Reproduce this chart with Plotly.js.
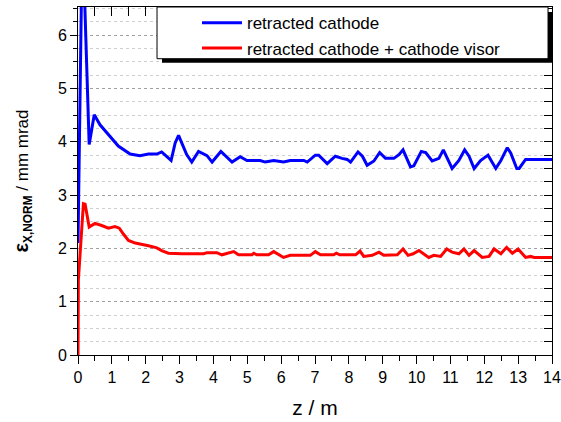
<!DOCTYPE html>
<html>
<head>
<meta charset="utf-8">
<script src="https://cdn.plot.ly/plotly-3.0.1.min.js"></script>
<style>html,body{margin:0;padding:0;background:#fff;}#chart{width:561px;height:422px;}</style>
</head>
<body>
<div id="chart"></div>
<script>
var seriesNames = ["retracted cathode", "retracted cathode + cathode visor"];

var blueZ = [0, 0.13, 0.33, 0.48, 0.65, 0.95, 1.19, 1.54, 1.83, 2.08,
  2.33, 2.47, 2.75, 2.87, 2.97, 3.21, 3.36, 3.56, 3.81, 3.96,
  4.22, 4.55, 4.79, 4.99, 5.38, 5.53, 5.78, 6.07, 6.27, 6.67,
  6.77, 7.01, 7.11, 7.36, 7.60, 7.80, 7.95, 8.05, 8.27, 8.40,
  8.54, 8.74, 8.91, 9.08, 9.33, 9.48, 9.60, 9.82, 9.92, 10.14,
  10.27, 10.46, 10.66, 10.79, 11.05, 11.25, 11.42, 11.55, 11.70, 11.89,
  12.11, 12.34, 12.49, 12.68, 12.78, 12.96, 13.03, 13.22, 14.0];
var blueEps = [2.1, 8.0, 3.95, 4.51, 4.32, 4.10, 3.92, 3.77, 3.74, 3.77,
  3.77, 3.81, 3.65, 3.98, 4.12, 3.76, 3.62, 3.82, 3.74, 3.62,
  3.82, 3.62, 3.72, 3.65, 3.65, 3.62, 3.65, 3.62, 3.65, 3.65,
  3.62, 3.75, 3.75, 3.59, 3.73, 3.69, 3.67, 3.62, 3.81, 3.73,
  3.56, 3.64, 3.80, 3.69, 3.69, 3.76, 3.85, 3.53, 3.55, 3.82,
  3.80, 3.64, 3.69, 3.85, 3.50, 3.65, 3.85, 3.73, 3.50, 3.65,
  3.75, 3.50, 3.65, 3.89, 3.79, 3.50, 3.50, 3.67, 3.67];

var redZ = [0, 0.01, 0.16, 0.21, 0.33, 0.50, 0.70, 0.90, 1.09, 1.22,
  1.34, 1.49, 1.69, 1.88, 2.08, 2.33, 2.47, 2.67, 3.07, 3.71,
  3.81, 4.10, 4.25, 4.60, 4.74, 5.14, 5.19, 5.28, 5.63, 5.78,
  6.07, 6.27, 6.67, 6.86, 7.01, 7.16, 7.55, 7.63, 7.73, 8.20,
  8.33, 8.44, 8.69, 8.89, 9.03, 9.43, 9.60, 9.75, 9.90, 10.07,
  10.36, 10.51, 10.71, 10.89, 11.05, 11.25, 11.40, 11.55, 11.70, 11.94,
  12.14, 12.29, 12.49, 12.66, 12.83, 13.00, 13.22, 13.37, 13.47, 14.0];
var redEps = [0, 1.4, 2.84, 2.83, 2.40, 2.47, 2.43, 2.38, 2.41, 2.38,
  2.27, 2.15, 2.10, 2.08, 2.05, 2.01, 1.96, 1.91, 1.90, 1.90,
  1.92, 1.92, 1.88, 1.94, 1.88, 1.88, 1.91, 1.88, 1.88, 1.94,
  1.83, 1.87, 1.87, 1.87, 1.94, 1.88, 1.88, 1.91, 1.88, 1.88,
  1.95, 1.85, 1.87, 1.93, 1.87, 1.88, 1.99, 1.87, 1.90, 1.96,
  1.83, 1.87, 1.85, 1.99, 1.93, 1.90, 1.99, 1.87, 1.96, 1.83,
  1.85, 1.99, 1.90, 2.02, 1.91, 1.99, 1.83, 1.85, 1.83, 1.83];

var xRange = [0, 14];
var yRange = [0, 6.53];

var font = "Arial, 'Liberation Sans', sans-serif";

var traces = [
  {x: blueZ, y: blueEps, type: 'scatter', mode: 'lines', name: seriesNames[0],
   line: {color: '#0000ff', width: 3}, hoverinfo: 'skip'},
  {x: redZ, y: redEps, type: 'scatter', mode: 'lines', name: seriesNames[1],
   line: {color: '#ff0000', width: 3}, hoverinfo: 'skip'},
  {x: [null], y: [null], xaxis: 'x2', yaxis: 'y2', type: 'scatter', mode: 'lines',
   showlegend: false, hoverinfo: 'skip'}
];

var layout = {
  width: 561, height: 422,
  margin: {l: 78, r: 9, t: 5, b: 67},
  paper_bgcolor: '#ffffff', plot_bgcolor: '#ffffff',
  font: {family: font, color: '#000', size: 16},
  showlegend: true,
  legend: {
    x: 0.251, y: 1.005, xanchor: 'left', yanchor: 'top',
    bgcolor: 'rgba(0,0,0,0)', borderwidth: 0,
    font: {family: font, size: 17, color: '#000'},
    itemwidth: 40, tracegroupgap: 0
  },
  xaxis: {
    range: xRange, dtick: 1, tick0: 0,
    ticks: 'outside', ticklen: 8, tickwidth: 1, tickcolor: '#000',
    showline: true, linecolor: '#000', linewidth: 1, mirror: true,
    showgrid: false, zeroline: false,
    tickfont: {family: font, size: 16, color: '#000'},
    minor: {dtick: 0.5, ticks: 'outside', ticklen: 5, tickcolor: '#000', showgrid: false},
    title: {text: 'z / m', font: {family: font, size: 21, color: '#000'}, standoff: 15}
  },
  yaxis: {
    range: yRange, dtick: 1, tick0: 0,
    ticks: 'outside', ticklen: 7, tickwidth: 1, tickcolor: '#000',
    showline: true, linecolor: '#000', linewidth: 1, mirror: true,
    showgrid: true, gridcolor: '#a0a0a0', griddash: 'dot', gridwidth: 1,
    zeroline: false,
    tickfont: {family: font, size: 16, color: '#000'},
    minor: {dtick: 0.25, ticks: 'outside', ticklen: 4, tickcolor: '#000',
            showgrid: true, gridcolor: '#cfcfcf', griddash: 'dot', gridwidth: 1},
    title: {text: '<b><span style="font-size:20px">ε</span><sub>X,NORM</sub></b> / mm mrad',
            font: {family: font, size: 17, color: '#000'}, standoff: 24}
  },
  xaxis2: {
    overlaying: 'x', anchor: 'y2', side: 'top', range: xRange,
    dtick: 0.5, tick0: 0, ticks: 'inside', ticklen: 9, tickcolor: '#000',
    showticklabels: false, showline: false, showgrid: false, zeroline: false
  },
  yaxis2: {
    overlaying: 'y', anchor: 'x2', side: 'right', range: yRange,
    dtick: 0.25, tick0: 0, ticks: 'inside', ticklen: 8, tickcolor: '#000',
    showticklabels: false, showline: false, showgrid: false, zeroline: false
  },
  shapes: [
    {type: 'rect', xref: 'paper', yref: 'paper', layer: 'above',
     x0: 0.1772, x1: 1.0, y0: 0.84, y1: 0.9857,
     fillcolor: '#000', line: {width: 0}},
    {type: 'rect', xref: 'paper', yref: 'paper', layer: 'above',
     x0: 0.1667, x1: 0.9916, y0: 0.8514, y1: 1.0,
     fillcolor: '#fff', line: {color: '#000', width: 1}}
  ]
};

Plotly.newPlot('chart', traces, layout, {displayModeBar: false, staticPlot: true});
</script>
</body>
</html>
